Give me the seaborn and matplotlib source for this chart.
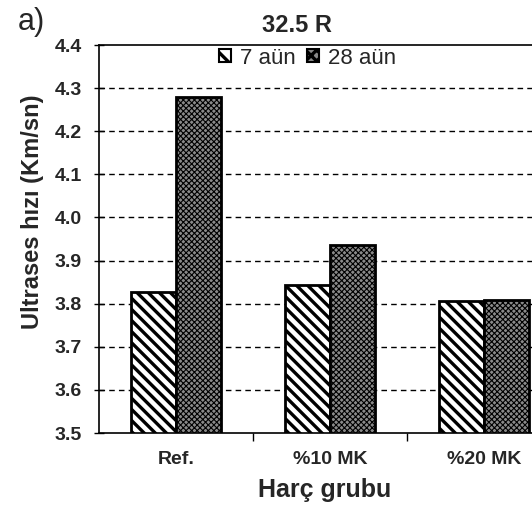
import matplotlib
matplotlib.use("Agg")
import matplotlib.pyplot as plt
import seaborn as sns
import pandas as pd
import numpy as np

groups = ["Ref.", "%10 MK", "%20 MK"]
series = ["7 aün", "28 aün"]
v7 = [3.828, 3.843, 3.807]
v28 = [4.280, 3.935, 3.808]
yticks = [3.5, 3.6, 3.7, 3.8, 3.9, 4.0, 4.1, 4.2, 4.3, 4.4]

df = pd.DataFrame({
    "grp": groups * 2,
    "ser": [series[0]] * 3 + [series[1]] * 3,
    "val": v7 + v28,
})

sns.set_theme(style="white")
plt.rcParams["font.family"] = ["Liberation Sans", "DejaVu Sans"]
plt.rcParams["hatch.linewidth"] = 2.4

fig = plt.figure(figsize=(5.32, 5.08), dpi=100)
ax = fig.add_axes([99 / 532, 75 / 508, 462 / 532, 388 / 508])

sns.barplot(data=df, x="grp", y="val", hue="ser", order=groups, hue_order=series,
            width=0.584, gap=0, ax=ax, errorbar=None, legend=True)

styles = {series[0]: dict(fc="white", hatch="\\\\\\"),
          series[1]: dict(fc="#8a8a8a", hatch="xxxxxx")}
for cont, s in zip(ax.containers, series):
    for p in cont:
        p.set_facecolor(styles[s]["fc"])
        p.set_edgecolor("black")
        p.set_linewidth(2)
        p.set_hatch(styles[s]["hatch"])

for p in ax.containers[1]:
    p._hatch_linewidth = 0.8

ax.set_ylim(3.5, 4.4)
ax.set_xlim(-0.5, 2.5)
ax.set_yticks(yticks)
ax.set_yticklabels([f"{t:.1f}" for t in yticks], fontsize=14, fontweight="bold")
ax.set_xticks(range(3))
ax.set_xticklabels(groups, fontsize=14, fontweight="bold")
ax.tick_params(axis="x", which="major", length=0, pad=13)
ax.set_xticks([0.5, 1.5], minor=True)
ax.tick_params(axis="x", which="minor", length=6, width=1, color="black", direction="out", bottom=True)
ax.tick_params(axis="y", which="major", length=7, width=1, color="black", direction="inout", left=True, pad=9)

for t in yticks[1:-1]:
    ax.axhline(t, color="black", lw=1, ls=(0, (4, 3)), zorder=0)

for sp in ["left", "bottom", "top"]:
    ax.spines[sp].set_color("black")
    ax.spines[sp].set_linewidth(1.2)
ax.spines["right"].set_visible(False)

ax.set_xlabel("Harç grubu", fontsize=18, fontweight="bold")
ax.xaxis.label.set(ha="center", va="center")
ax.xaxis.set_label_coords(0.489, -0.148)
ax.set_ylabel("Ultrases hızı (Km/sn)", fontsize=17, fontweight="bold")
ax.yaxis.label.set(ha="center", va="center")
ax.yaxis.set_label_coords(-0.143, 0.57)

fig.text(297 / 532, 1 - 25 / 508, "32.5 R", fontsize=17, fontweight="bold", ha="center", va="center")
fig.text(31 / 532, 1 - 22 / 508, "a)", fontsize=22, ha="center", va="center")

leg = ax.legend(loc="center", bbox_to_anchor=(0.452, (433 - 58) / 388), ncol=2, frameon=False,
                fontsize=16, handlelength=0.55, handleheight=0.55, handletextpad=0.4,
                columnspacing=0.5, borderaxespad=0.0, borderpad=0.0)
for h, s in zip(leg.legend_handles, series):
    h.set_facecolor(styles[s]["fc"])
    h.set_edgecolor("black")
    h.set_linewidth(1.5)
    h.set_hatch("\\" if s == series[0] else "xxx")

fig.savefig("out.png", dpi=100)
